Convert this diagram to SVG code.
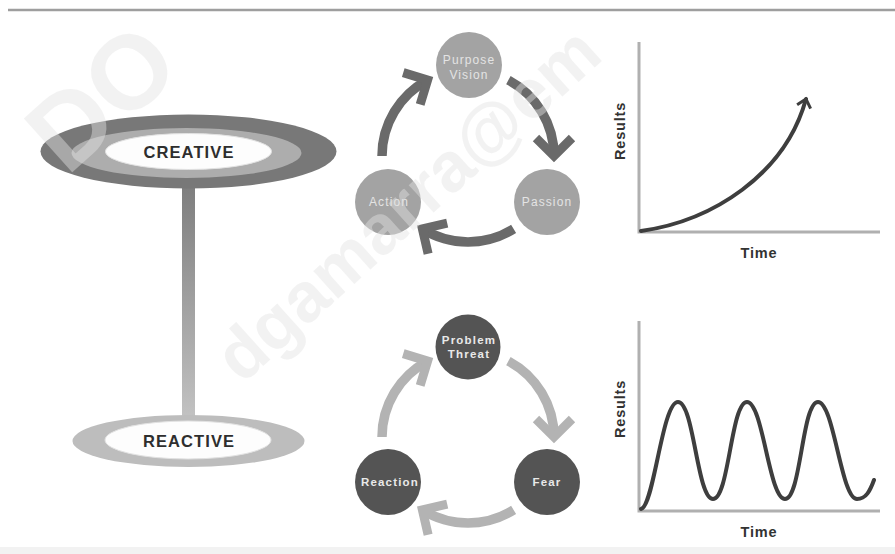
<svg xmlns="http://www.w3.org/2000/svg" width="895" height="554" viewBox="0 0 895 554">
  <defs>
    <style>
      .lbl { font-family: "Liberation Sans", Arial, sans-serif; text-anchor: middle; }
      .disc { font-size: 16.5px; font-weight: bold; fill: #2e2e2e; letter-spacing: 1.1px; }
      .top-c { fill: #a3a3a3; }
      .bot-c { fill: #545454; }
      .top-t { font-size: 12px; fill: #e4e4e4; letter-spacing: 1.1px; }
      .bot-t { font-size: 11.5px; font-weight: bold; fill: #e9e9e9; letter-spacing: 1.2px; }
      .arc-dark { fill: none; stroke: #6a6a6a; stroke-width: 9.5; marker-end: url(#chev-dark); }
      .arc-light { fill: none; stroke: #b3b3b3; stroke-width: 9.5; marker-end: url(#chev-light); }
      .axis { stroke: #b0b0b0; stroke-width: 3; fill: none; }
      .curve { stroke: #3e3e3e; stroke-width: 4; fill: none; stroke-linecap: round; }
      .ax-t { font-size: 14.5px; font-weight: bold; fill: #333; letter-spacing: 0.8px; }
      .wm { font-family: "Liberation Sans", Arial, sans-serif; font-weight: bold; fill: #e2e2e2; fill-opacity: 0.45; }
    </style>
    <marker id="chev-dark" markerUnits="userSpaceOnUse" viewBox="-40 -40 60 80" markerWidth="60" markerHeight="80" refX="0" refY="0" orient="auto">
      <path d="M-18,-18 L0,0 L-18,18" fill="none" stroke="#6a6a6a" stroke-width="9" stroke-linejoin="miter"/>
    </marker>
    <marker id="chev-light" markerUnits="userSpaceOnUse" viewBox="-40 -40 60 80" markerWidth="60" markerHeight="80" refX="0" refY="0" orient="auto">
      <path d="M-18,-18 L0,0 L-18,18" fill="none" stroke="#b3b3b3" stroke-width="9" stroke-linejoin="miter"/>
    </marker>
    <marker id="chev-curve" markerUnits="userSpaceOnUse" viewBox="-20 -20 30 40" markerWidth="30" markerHeight="40" refX="0" refY="0" orient="auto">
      <path d="M-8,-7 L0,0 L-8,7" fill="none" stroke="#3e3e3e" stroke-width="3" stroke-linejoin="miter"/>
    </marker>
    <linearGradient id="stemGrad" x1="0" y1="0" x2="0" y2="1">
      <stop offset="0" stop-color="#7e7e7e"/>
      <stop offset="1" stop-color="#c2c2c2"/>
    </linearGradient>
  </defs>

  <rect x="0" y="0" width="895" height="554" fill="#ffffff"/>
  <line x1="8" y1="10" x2="895" y2="10" stroke="#9e9e9e" stroke-width="2.5"/>
  <rect x="0" y="547" width="895" height="7" fill="#f2f2f2"/>

  <g id="connectors">
    <rect id="stem" x="182" y="186" width="13" height="232" fill="url(#stemGrad)"/>
    <path class="arc-dark" d="M382,156 A86,86 0 0 1 427.6,80.1"/>
    <path class="arc-dark" d="M508.4,80.1 A86,86 0 0 1 554,156"/>
    <path class="arc-dark" d="M513.6,228.9 A86,86 0 0 1 422.4,228.9"/>
    <path class="arc-light" d="M382,437 A86,86 0 0 1 427.6,361.1"/>
    <path class="arc-light" d="M508.4,361.1 A86,86 0 0 1 554,437"/>
    <path class="arc-light" d="M513.6,509.9 A86,86 0 0 1 422.4,509.9"/>
  </g>

  <g id="node-creative">
    <ellipse cx="188.5" cy="151.5" rx="148" ry="37" fill="#787878"/>
    <ellipse cx="186.5" cy="153" rx="115" ry="25" fill="#adadad"/>
    <ellipse cx="188.5" cy="151.5" rx="83" ry="18" fill="#fdfdfd" stroke="#e2e2e2" stroke-width="1"/>
    <text class="lbl disc" x="189" y="157.5">CREATIVE</text>
  </g>

  <g id="node-reactive">
    <ellipse cx="188.5" cy="441" rx="116" ry="26" fill="#bdbdbd"/>
    <ellipse cx="188" cy="440" rx="83" ry="19" fill="#fdfdfd" stroke="#e2e2e2" stroke-width="1"/>
    <text class="lbl disc" x="189" y="447">REACTIVE</text>
  </g>

  <g id="node-purpose">
    <circle class="top-c" cx="469" cy="65" r="33"/>
    <text class="lbl top-t" x="469" y="64">Purpose</text>
    <text class="lbl top-t" x="469" y="79">Vision</text>
  </g>
  <g id="node-passion">
    <circle class="top-c" cx="547" cy="202" r="33"/>
    <text class="lbl top-t" x="547" y="206">Passion</text>
  </g>
  <g id="node-action">
    <circle class="top-c" cx="388" cy="202" r="33"/>
    <text class="lbl top-t" x="389" y="206">Action</text>
  </g>

  <g id="node-problem">
    <circle class="bot-c" cx="468" cy="347" r="32.5"/>
    <text class="lbl bot-t" x="469" y="344">Problem</text>
    <text class="lbl bot-t" x="469" y="358">Threat</text>
  </g>
  <g id="node-fear">
    <circle class="bot-c" cx="547" cy="482" r="33"/>
    <text class="lbl bot-t" x="547" y="486">Fear</text>
  </g>
  <g id="node-reaction">
    <circle class="bot-c" cx="388" cy="482" r="33"/>
    <text class="lbl bot-t" x="390" y="486">Reaction</text>
  </g>

  <g id="chart-creative">
    <path class="axis" d="M639,42 L639,232 L880,232"/>
    <path class="curve" d="M641,231 C712,221 785,175 806,99" marker-end="url(#chev-curve)"/>
    <text class="lbl ax-t" transform="translate(625,131) rotate(-90)">Results</text>
    <text class="lbl ax-t" x="759" y="258">Time</text>
  </g>

  <g id="chart-reactive">
    <path class="axis" d="M639,321 L639,511 L880,511"/>
    <path class="curve" d="M641,509 C654,507 662,402 678,402 C694,402 697,499 713,499 C729,499 731,402 747,402 C763,402 769,499 785,499 C801,499 802,402 818,402 C834,402 841,499 857,499 C866,499 870,491 874,480"/>
    <text class="lbl ax-t" transform="translate(625,409) rotate(-90)">Results</text>
    <text class="lbl ax-t" x="759" y="537">Time</text>
  </g>

  <g id="watermark">
    <text class="wm" font-size="105" transform="translate(67,177) rotate(-42)">DO</text>
    <text class="wm" font-size="70" transform="translate(242,385) rotate(-42)">dgamarra@em</text>
  </g>
</svg>
